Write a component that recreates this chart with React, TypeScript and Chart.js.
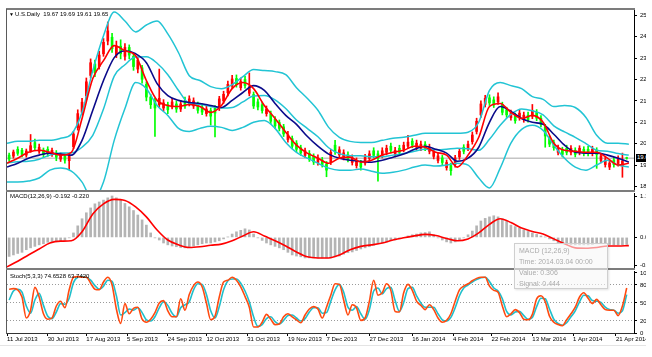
import React, { useEffect, useRef } from "react";
import { Chart, registerables } from "chart.js";

Chart.register(...registerables);

// ---------- data (x = calendar days since 11 Jul 2013) ----------
const DATE_LABELS = [
  "11 Jul 2013", "30 Jul 2013", "17 Aug 2013", "5 Sep 2013", "24 Sep 2013", "12 Oct 2013",
  "31 Oct 2013", "19 Nov 2013", "7 Dec 2013", "27 Dec 2013", "16 Jan 2014", "4 Feb 2014",
  "22 Feb 2014", "13 Mar 2014", "1 Apr 2014", "21 Apr 2014",
];
const DATE_DAYS = [0, 19, 37, 56, 75, 93, 112, 131, 149, 169, 189, 208, 226, 245, 264, 284];

const OPEN = [
  19.77, 19.73, 20.0, 19.96, 19.77, 19.94, 20.26, 19.92, 19.96, 20.0,
  19.8, 19.85, 19.61, 19.73, 19.55, 20.1, 20.85, 21.45, 22.1, 22.9,
  23.35, 23.25, 23.75, 24.25, 24.4, 23.7, 24.05, 23.65, 24.0, 23.65,
  23.15, 23.2, 22.55, 22.05, 21.9, 21.75, 21.62, 21.75, 21.66, 21.78,
  21.58, 21.9, 21.78, 21.7, 21.75, 21.66, 21.4, 21.52, 21.62, 21.62,
  21.9, 22.22, 22.48, 22.78, 22.42, 22.74, 22.2, 22.15, 21.86, 21.75,
  21.4, 21.4, 21.18, 21.05, 20.88, 20.38, 20.42, 20.24, 20.06, 19.76,
  19.84, 19.72, 19.48, 19.58, 19.42, 19.5, 20.16, 19.78, 19.68, 19.78,
  19.48, 19.36, 19.46, 19.46, 19.64, 19.94, 19.82, 19.76, 19.88, 20.12,
  19.8, 20.04, 20.0, 20.12, 20.32, 20.08, 20.04, 20.2, 19.92, 19.72,
  19.56, 19.66, 19.28, 19.36, 19.4, 19.7, 20.08, 20.04, 20.3, 20.7,
  21.35, 21.76, 22.02, 21.94, 21.86, 21.75, 21.55, 21.24, 21.3, 21.24,
  21.16, 21.34, 21.3, 21.44, 21.22, 20.88, 20.42, 20.26, 19.88, 19.96,
  20.04, 19.88, 19.96, 19.88, 20.0, 20.0, 19.84, 19.96, 19.56, 19.4,
  19.3, 19.58, 19.44, 19.36, 19.67,
];
const HIGH = [
  19.85, 19.97, 20.1, 20.04, 20.01, 20.58, 20.4, 20.2, 20.05, 20.1,
  20.05, 19.95, 19.86, 19.82, 19.84, 20.7, 21.55, 22.0, 22.8, 23.55,
  23.5, 23.85, 24.35, 25.0, 24.55, 24.25, 24.3, 24.15, 24.1, 23.75,
  23.6, 23.3, 22.65, 22.15, 22.0, 23.15, 21.95, 21.85, 22.0, 21.9,
  21.92, 22.05, 22.1, 22.02, 21.85, 21.78, 21.7, 21.62, 21.72, 22.08,
  22.28, 22.68, 22.9, 22.92, 22.8, 22.86, 23.0, 22.25, 21.98, 21.85,
  21.7, 21.5, 21.28, 21.15, 20.98, 20.7, 20.52, 20.34, 20.16, 20.05,
  19.95, 19.82, 19.78, 19.68, 19.52, 20.0, 20.35, 20.1, 19.98, 19.9,
  19.78, 19.66, 19.56, 19.8, 19.94, 20.06, 19.94, 20.06, 20.16, 20.24,
  20.08, 20.16, 20.28, 20.55, 20.42, 20.36, 20.32, 20.3, 20.2, 20.02,
  19.86, 19.76, 19.58, 19.46, 19.76, 20.02, 20.18, 20.32, 20.68, 21.22,
  21.9, 22.12, 22.14, 22.06, 22.22, 21.85, 21.65, 21.54, 21.42, 21.54,
  21.46, 21.46, 21.76, 21.56, 21.32, 20.98, 20.52, 20.36, 20.16, 20.08,
  20.16, 20.14, 20.06, 20.14, 20.1, 20.12, 20.12, 20.06, 19.84, 19.7,
  19.58, 19.68, 19.74, 19.85, 19.69,
];
const LOW = [
  19.53, 19.65, 19.76, 19.7, 19.69, 19.88, 19.98, 19.84, 19.7, 19.72,
  19.72, 19.55, 19.52, 19.45, 19.2, 20.02, 20.75, 21.35, 21.95, 22.8,
  22.85, 23.15, 23.65, 24.1, 23.8, 23.6, 23.55, 23.5, 23.55, 23.1,
  23.0, 22.6, 21.9, 21.6, 20.5, 21.65, 21.5, 21.4, 21.58, 21.45,
  21.48, 21.6, 21.7, 21.6, 21.42, 21.36, 21.3, 20.95, 20.48, 21.52,
  21.8, 22.1, 22.38, 22.44, 22.32, 22.4, 22.1, 21.6, 21.55, 21.42,
  21.3, 21.0, 20.82, 20.72, 20.5, 20.28, 20.02, 19.9, 19.76, 19.68,
  19.52, 19.4, 19.38, 19.3, 18.92, 19.4, 19.8, 19.68, 19.58, 19.5,
  19.38, 19.26, 19.18, 19.38, 19.54, 19.66, 18.75, 19.66, 19.78, 19.86,
  19.7, 19.78, 19.9, 20.02, 20.06, 19.98, 19.94, 19.94, 19.82, 19.62,
  19.46, 19.38, 19.18, 18.98, 19.3, 19.6, 19.82, 19.94, 20.2, 20.6,
  21.25, 21.66, 21.72, 21.64, 21.76, 21.35, 21.25, 21.14, 21.02, 21.14,
  21.06, 21.06, 21.2, 21.12, 20.88, 20.08, 20.1, 19.96, 19.78, 19.7,
  19.78, 19.78, 19.7, 19.78, 19.74, 19.74, 19.74, 19.25, 19.46, 19.3,
  19.2, 19.3, 19.34, 18.9, 19.61,
];
const CLOSE = [
  19.61, 19.89, 19.84, 19.8, 19.93, 20.14, 20.06, 20.08, 19.8, 19.84,
  19.96, 19.69, 19.77, 19.57, 19.75, 20.6, 21.4, 21.85, 22.65, 23.4,
  23.0, 23.7, 24.2, 24.65, 23.95, 24.05, 23.75, 24.0, 23.7, 23.25,
  23.5, 22.75, 22.05, 21.75, 21.62, 22.0, 21.82, 21.55, 21.86, 21.58,
  21.78, 21.7, 21.98, 21.9, 21.53, 21.46, 21.58, 21.3, 21.42, 21.98,
  22.16, 22.55, 22.76, 22.54, 22.66, 22.5, 22.45, 21.7, 21.66, 21.52,
  21.58, 21.1, 20.92, 20.82, 20.6, 20.56, 20.12, 20.0, 19.86, 19.94,
  19.62, 19.5, 19.66, 19.4, 19.18, 19.88, 19.92, 19.98, 19.86, 19.6,
  19.66, 19.54, 19.3, 19.68, 19.82, 19.76, 19.64, 19.94, 20.04, 19.96,
  19.96, 19.88, 20.16, 20.28, 20.16, 20.24, 20.2, 20.04, 20.08, 19.9,
  19.74, 19.48, 19.48, 19.16, 19.66, 19.92, 19.92, 20.2, 20.56, 21.1,
  21.78, 22.0, 21.82, 21.74, 22.06, 21.45, 21.35, 21.42, 21.12, 21.42,
  21.34, 21.16, 21.52, 21.22, 20.98, 20.52, 20.2, 20.06, 20.04, 19.8,
  19.88, 20.04, 19.8, 20.04, 19.84, 19.84, 20.0, 19.8, 19.74, 19.58,
  19.46, 19.4, 19.62, 19.54, 19.65,
];
const BAR_DAYS = OPEN.map((_, i) => 1 + 2 * i);

const BB_UPPER = [
  20.24, 20.31, 20.31, 20.35, 20.35, 20.43, 20.59, 21.45, 23.09, 24.46,
  25.39, 25.04, 24.61, 24.88, 25.04, 24.53, 23.79, 22.89, 22.7, 22.46,
  22.38, 22.54, 22.85, 23.13, 23.09, 23.05, 22.93, 22.42, 22.0, 21.53,
  20.86, 20.47, 20.31, 20.27, 20.27, 20.35, 20.43, 20.47, 20.55, 20.63,
  20.63, 20.63, 20.63, 20.67, 21.06, 22.31, 22.62, 22.5, 22.38, 22.07,
  21.96, 21.68, 21.72, 21.64, 21.25, 20.55, 20.24, 20.24, 20.2,
];
const BB_MIDDLE = [
  19.47, 19.51, 19.53, 19.61, 19.77, 19.85, 19.86, 20.08, 20.55, 21.58,
  22.87, 23.32, 23.62, 23.63, 23.38, 22.93, 22.31, 21.8, 21.76, 21.68,
  21.62, 21.64, 21.86, 22.09, 22.11, 21.94, 21.6, 21.15, 20.82, 20.49,
  20.06, 19.83, 19.75, 19.75, 19.71, 19.71, 19.77, 19.83, 19.92, 20.0,
  19.98, 20.0, 20.04, 20.02, 19.96, 20.39, 20.94, 21.37, 21.58, 21.51,
  21.35, 20.92, 20.68, 20.47, 20.22, 19.96, 19.92, 19.83, 19.77,
];
const BB_LOWER = [
  18.71, 18.71, 18.75, 18.87, 19.18, 19.26, 19.14, 18.71, 18.01, 18.71,
  20.35, 21.6, 22.62, 22.38, 21.72, 21.33, 20.82, 20.7, 20.82, 20.9,
  20.86, 20.74, 20.86, 21.06, 21.13, 20.82, 20.27, 19.88, 19.65, 19.45,
  19.26, 19.18, 19.18, 19.22, 19.14, 19.06, 19.1, 19.18, 19.3, 19.38,
  19.34, 19.38, 19.45, 19.38, 18.87, 18.48, 19.26, 20.24, 20.78, 20.94,
  20.74, 20.16, 19.65, 19.3, 19.18, 19.38, 19.57, 19.38, 19.3,
];
const MA_FAST = [
  19.45, 19.65, 19.88, 19.96, 19.88, 19.77, 19.88, 21.21, 22.78, 23.48,
  24.07, 23.87, 23.67, 22.7, 21.92, 21.72, 21.68, 21.76, 21.68, 21.45,
  21.72, 22.38, 22.62, 22.38, 21.72, 21.21, 20.67, 20.16, 19.85, 19.65,
  19.45, 19.65, 19.69, 19.49, 19.57, 19.77, 19.88, 19.96, 20.12, 20.08,
  19.88, 19.77, 19.3, 19.77, 20.47, 21.68, 21.8, 21.45, 21.21, 21.33,
  21.06, 20.24, 19.96, 19.92, 19.88, 19.88, 19.65, 19.38, 19.45,
];
const MA_SLOW = [
  19.3, 19.45, 19.65, 19.77, 19.85, 19.81, 19.77, 20.35, 21.53, 22.7,
  23.6, 23.87, 23.75, 23.4, 22.58, 22.11, 21.92, 21.84, 21.8, 21.72,
  21.64, 21.92, 22.23, 22.5, 22.31, 21.8, 21.33, 20.98, 20.51, 20.12,
  19.81, 19.65, 19.57, 19.53, 19.49, 19.57, 19.69, 19.81, 20.0, 20.12,
  20.0, 19.85, 19.53, 19.65, 20.08, 21.06, 21.68, 21.49, 21.21, 21.06,
  20.98, 20.59, 20.16, 19.88, 19.85, 19.85, 19.77, 19.65, 19.49,
];
const LINE_DAYS = BB_UPPER.map((_, i) => 5 * i);

const MACD_MAIN = [
  -0.51, -0.47, -0.43, -0.4, -0.33, -0.28, -0.24, -0.2, -0.17, -0.13,
  -0.12, -0.11, -0.09, -0.08, -0.01, 0.12, 0.31, 0.5, 0.66, 0.79,
  0.9, 0.95, 1.0, 1.06, 1.11, 1.06, 1.0, 0.91, 0.82, 0.72,
  0.6, 0.47, 0.33, 0.12, -0.01, -0.07, -0.15, -0.2, -0.23, -0.25,
  -0.27, -0.28, -0.25, -0.23, -0.2, -0.17, -0.15, -0.15, -0.12, -0.09,
  -0.04, 0.01, 0.09, 0.15, 0.19, 0.23, 0.2, 0.09, -0.01, -0.08,
  -0.15, -0.2, -0.24, -0.28, -0.33, -0.4, -0.47, -0.5, -0.52, -0.55,
  -0.55, -0.55, -0.55, -0.55, -0.55, -0.55, -0.52, -0.5, -0.45, -0.41,
  -0.39, -0.35, -0.31, -0.28, -0.25, -0.21, -0.17, -0.15, -0.12, -0.09,
  -0.07, -0.03, 0.0, 0.04, 0.07, 0.09, 0.12, 0.13, 0.15, 0.07,
  -0.01, -0.07, -0.12, -0.15, -0.12, -0.09, -0.01, 0.07, 0.17, 0.31,
  0.44, 0.51, 0.55, 0.58, 0.55, 0.5, 0.43, 0.33, 0.29, 0.25,
  0.2, 0.16, 0.12, 0.08, 0.04, 0.01, -0.04, -0.09, -0.15, -0.17,
  -0.19, -0.2, -0.2, -0.2, -0.2, -0.2, -0.19, -0.17, -0.17, -0.17,
  -0.19, -0.2, -0.2, -0.2, -0.19,
];
const MACD_SIGNAL = [
  -0.79, -0.64, -0.47, -0.31, -0.15, -0.1, -0.09, 0.15, 0.63, 0.9,
  1.02, 0.99, 0.82, 0.55, 0.2, -0.07, -0.2, -0.27, -0.25, -0.21,
  -0.18, -0.09, 0.04, 0.15, 0.04, -0.09, -0.23, -0.39, -0.52, -0.55,
  -0.55, -0.47, -0.33, -0.24, -0.2, -0.15, -0.07, -0.01, 0.04, 0.08,
  0.05, -0.03, -0.09, -0.04, 0.12, 0.35, 0.5, 0.4, 0.25, 0.16,
  0.09, -0.04, -0.17, -0.28, -0.29, -0.27, -0.23, -0.23, -0.22,
];

const STOCH_K = [
  73, 74, 72, 60, 25, 38, 76, 60, 32, 23,
  25, 45, 53, 42, 72, 93, 94, 93, 93, 83,
  73, 72, 85, 93, 80, 40, 16, 49, 32, 41,
  43, 23, 18, 23, 34, 50, 54, 37, 27, 27,
  57, 38, 64, 79, 85, 77, 50, 22, 28, 60,
  85, 88, 93, 88, 77, 61, 43, 10, 10, 18,
  31, 23, 14, 15, 27, 32, 27, 22, 17, 30,
  40, 44, 40, 25, 43, 63, 82, 81, 55, 30,
  47, 42, 21, 25, 53, 88, 63, 67, 82, 71,
  36, 35, 67, 81, 71, 53, 46, 39, 47, 39,
  25, 18, 21, 32, 53, 72, 78, 82, 87, 91,
  93, 93, 78, 71, 68, 45, 27, 32, 39, 34,
  23, 22, 31, 57, 62, 52, 28, 18, 14, 12,
  22, 32, 43, 60, 67, 58, 49, 56, 47, 39,
  38, 38, 29, 45, 75,
];
const STOCH_D = [
  55, 70, 73, 68, 45, 33, 55, 66, 46, 28,
  24, 35, 49, 48, 58, 84, 93, 94, 93, 88,
  79, 73, 78, 88, 86, 62, 30, 34, 40, 38,
  42, 34, 22, 20, 27, 42, 52, 46, 33, 27,
  42, 47, 52, 72, 82, 81, 64, 37, 25, 44,
  72, 87, 90, 90, 83, 70, 52, 27, 11, 14,
  24, 27, 19, 15, 21, 29, 30, 25, 20, 24,
  35, 42, 42, 33, 34, 53, 72, 81, 68, 43,
  38, 44, 32, 23, 39, 70, 75, 65, 74, 76,
  54, 36, 51, 74, 76, 62, 50, 43, 43, 43,
  32, 22, 20, 26, 42, 62, 75, 80, 85, 89,
  92, 93, 86, 75, 70, 57, 36, 30, 35, 36,
  29, 23, 26, 44, 58, 57, 40, 23, 16, 13,
  17, 27, 37, 52, 63, 62, 54, 53, 51, 43,
  39, 38, 33, 37, 64,
];

const LAST_PRICE = 19.65;
const PRICE_TICKS = [18.536, 19.376, 20.216, 21.056, 21.896, 22.736, 23.576, 24.416, 25.256];
const MACD_TICKS = [1.1, 0, -0.76];
const STOCH_TICKS = [0, 20, 50, 80, 100];
const STOCH_LEVELS = [20, 50, 80];

// ---------- layout / style ----------
const W = 652;
const H = 357;
const X_MIN = 0;
const X_MAX = 292.4;
const FONT = "'Liberation Sans', Arial, sans-serif";
const UP = "#ff0000";
const DOWN = "#00ff00";
const BAND = "#22c4d4";

const pts = (xs: number[], ys: number[]) => xs.map((x, i) => ({ x, y: ys[i] }));

const hiddenX = {
  type: "linear" as const,
  min: X_MIN,
  max: X_MAX,
  offset: false,
  display: false,
  grid: { offset: false },
};

const rightAxis = (min: number, max: number, ticks: number[], fmt: (v: number) => string, extra: any = {}) => ({
  type: "linear" as const,
  position: "right" as const,
  min,
  max,
  afterBuildTicks: (s: any) => {
    s.ticks = ticks.map((v) => ({ value: v }));
  },
  afterFit: (s: any) => {
    s.width = 18;
  },
  grid: { drawOnChartArea: false, drawTicks: true, tickLength: 3, tickColor: "#000", color: "#000", ...(extra.grid || {}) },
  border: { display: true, color: "#000", width: 1, ...(extra.border || {}) },
  ticks: {
    autoSkip: false,
    padding: 3,
    color: "#000",
    font: { family: FONT, size: 6 },
    callback: (v: any) => fmt(Number(v)),
  },
});

const common = (padding: any) => ({
  responsive: false,
  maintainAspectRatio: false,
  devicePixelRatio: 1,
  animation: false as const,
  events: [] as any[],
  layout: { padding },
  plugins: { legend: { display: false }, tooltip: { enabled: false } },
});

const line = (data: any[], color: string, width: number, order: number, tension = 0.35) => ({
  type: "line" as const,
  data,
  borderColor: color,
  borderWidth: width,
  pointRadius: 0,
  tension,
  cubicInterpolationMode: "monotone" as const,
  order,
});

function makeMain(canvas: HTMLCanvasElement) {
  const colors = OPEN.map((o, i) => (CLOSE[i] >= o ? UP : DOWN));
  return new Chart(canvas, {
    type: "bar",
    data: {
      datasets: [
        {
          type: "line",
          data: [
            { x: X_MIN, y: LAST_PRICE },
            { x: X_MAX, y: LAST_PRICE },
          ],
          borderColor: "#c4c4c4",
          borderWidth: 1.5,
          pointRadius: 0,
          order: 40,
        } as any,
        {
          type: "bar",
          data: BAR_DAYS.map((d, i) => ({ x: d, y: [LOW[i], HIGH[i]] })),
          backgroundColor: colors,
          barThickness: 1,
          grouped: false,
          order: 30,
        } as any,
        {
          type: "bar",
          data: BAR_DAYS.map((d, i) => ({ x: d, y: [OPEN[i], CLOSE[i]] })),
          backgroundColor: colors,
          barThickness: 2,
          grouped: false,
          order: 29,
        } as any,
        line(pts(LINE_DAYS, BB_UPPER), BAND, 1.5, 5),
        line(pts(LINE_DAYS, BB_MIDDLE), BAND, 1.5, 5),
        line(pts(LINE_DAYS, BB_LOWER), BAND, 1.5, 5),
        line(pts(LINE_DAYS, MA_SLOW), "#0a0a8a", 1.6, 3),
        line(pts(LINE_DAYS, MA_FAST), "#ff0000", 1.6, 2),
      ],
    },
    options: {
      ...common({ left: 7, right: 0, top: 10, bottom: H - 190 }),
      scales: {
        x: hiddenX,
        y: rightAxis(18.4, 25.47, PRICE_TICKS, (v) => v.toFixed(2)),
      },
    } as any,
  });
}

function makeMacd(canvas: HTMLCanvasElement) {
  return new Chart(canvas, {
    type: "bar",
    data: {
      datasets: [
        {
          type: "bar",
          data: pts(BAR_DAYS, MACD_MAIN),
          backgroundColor: "#b4b4b4",
          barThickness: 2,
          grouped: false,
          order: 10,
        } as any,
        line(pts(LINE_DAYS, MACD_SIGNAL), "#ff0000", 1.6, 1),
      ],
    },
    options: {
      ...common({ left: 7, right: 0, top: 193, bottom: H - 268 }),
      scales: {
        x: hiddenX,
        y: rightAxis(-0.82, 1.19, MACD_TICKS, (v) => v.toFixed(4)),
      },
    } as any,
  });
}

function makeStoch(canvas: HTMLCanvasElement) {
  return new Chart(canvas, {
    type: "line",
    data: {
      datasets: [
        line(pts(BAR_DAYS, STOCH_D), "#1fbfcb", 1.6, 2, 0.25),
        line(pts(BAR_DAYS, STOCH_K), "#ff4a10", 1.6, 1, 0.25),
      ],
    },
    options: {
      ...common({ left: 7, right: 0, top: 271, bottom: 12 }),
      scales: {
        x: {
          type: "linear",
          min: X_MIN,
          max: X_MAX,
          offset: false,
          position: "bottom",
          afterBuildTicks: (s: any) => {
            s.ticks = DATE_DAYS.map((v) => ({ value: v }));
          },
          afterFit: (s: any) => {
            s.height = 12;
            s.paddingLeft = 0;
            s.paddingRight = 0;
          },
          grid: { drawOnChartArea: false, drawTicks: true, tickLength: 3, tickColor: "#000", color: "#000" },
          border: { display: true, color: "#333", width: 1 },
          ticks: {
            autoSkip: false,
            maxRotation: 0,
            minRotation: 0,
            align: "start",
            padding: 0,
            color: "#000",
            font: { family: FONT, size: 6 },
            callback: (v: any) => {
              const k = DATE_DAYS.indexOf(Number(v));
              return k >= 0 ? DATE_LABELS[k] : "";
            },
          },
        },
        y: rightAxis(0, 103.3, STOCH_TICKS, (v) => String(v), {
          grid: {
            drawOnChartArea: true,
            color: (ctx: any) => (ctx.tick && STOCH_LEVELS.includes(ctx.tick.value) ? "#9a9a9a" : "rgba(0,0,0,0)"),
          },
          border: { dash: [1, 2] },
        }),
      },
    } as any,
  });
}

const abs = (s: React.CSSProperties): React.CSSProperties => ({ position: "absolute", ...s });
const txt: React.CSSProperties = { fontFamily: FONT, fontSize: 6, lineHeight: "7px", color: "#000", whiteSpace: "nowrap" };

export default function App() {
  const a = useRef<HTMLCanvasElement>(null);
  const b = useRef<HTMLCanvasElement>(null);
  const c = useRef<HTMLCanvasElement>(null);

  useEffect(() => {
    const charts = [makeMain(a.current!), makeMacd(b.current!), makeStoch(c.current!)];
    return () => charts.forEach((ch) => ch.destroy());
  }, []);

  const cv: React.CSSProperties = abs({ left: 0, top: 0, width: W, height: H });

  return (
    <div style={abs({ left: 0, top: 0, width: W, height: H, background: "#fff", overflow: "hidden" })}>
      <canvas ref={a} width={W} height={H} style={cv} />
      <canvas ref={b} width={W} height={H} style={cv} />
      <canvas ref={c} width={W} height={H} style={cv} />

      {/* frame lines */}
      <div style={abs({ left: 6, top: 8, width: 629, height: 2, background: "#7c7c7c" })} />
      <div style={abs({ left: 6, top: 9, width: 1, height: 325, background: "#5a5a5a" })} />
      <div style={abs({ left: 6, top: 190, width: 629, height: 2, background: "#7c7c7c" })} />
      <div style={abs({ left: 6, top: 268, width: 629, height: 2, background: "#7c7c7c" })} />
      <div style={abs({ left: 0, top: 345, width: 646, height: 1, background: "#e4e4e4" })} />

      {/* panel captions */}
      <div style={abs({ ...txt, left: 9, top: 11, fontSize: 5 })}>▼</div>
      <div style={abs({ ...txt, left: 15, top: 11 })}>U.S.Daily&nbsp;&nbsp;19.67 19.69 19.61 19.65</div>
      <div style={abs({ ...txt, left: 10, top: 193 })}>MACD(12,26,9) -0.192 -0.220</div>
      <div style={abs({ ...txt, left: 10, top: 273 })}>Stoch(5,3,3) 74.6528 63.7420</div>

      {/* last price marker */}
      <div style={abs({ ...txt, left: 636, top: 154, width: 12, height: 8, background: "#000", color: "#fff", paddingLeft: 1, overflow: "hidden" })}>
        19.65
      </div>

      {/* right cut-off of the screenshot */}
      <div style={abs({ left: 646, top: 0, width: 6, height: H, background: "#fff" })} />

      {/* hover tooltip */}
      <div
        style={abs({
          left: 514,
          top: 243,
          width: 94,
          height: 46,
          border: "1px solid #cfcfcf",
          background: "rgba(246,246,246,0.6)",
          boxShadow: "1px 1px 2px rgba(0,0,0,0.12)",
          fontFamily: FONT,
          fontSize: 7,
          lineHeight: "11px",
          color: "#ababab",
          paddingLeft: 4,
          paddingTop: 1,
          boxSizing: "border-box",
          whiteSpace: "nowrap",
        })}
      >
        <div>MACD (12,26,9)</div>
        <div>Time: 2014.03.04 00:00</div>
        <div>Value: 0.306</div>
        <div>Signal: 0.444</div>
      </div>
    </div>
  );
}
